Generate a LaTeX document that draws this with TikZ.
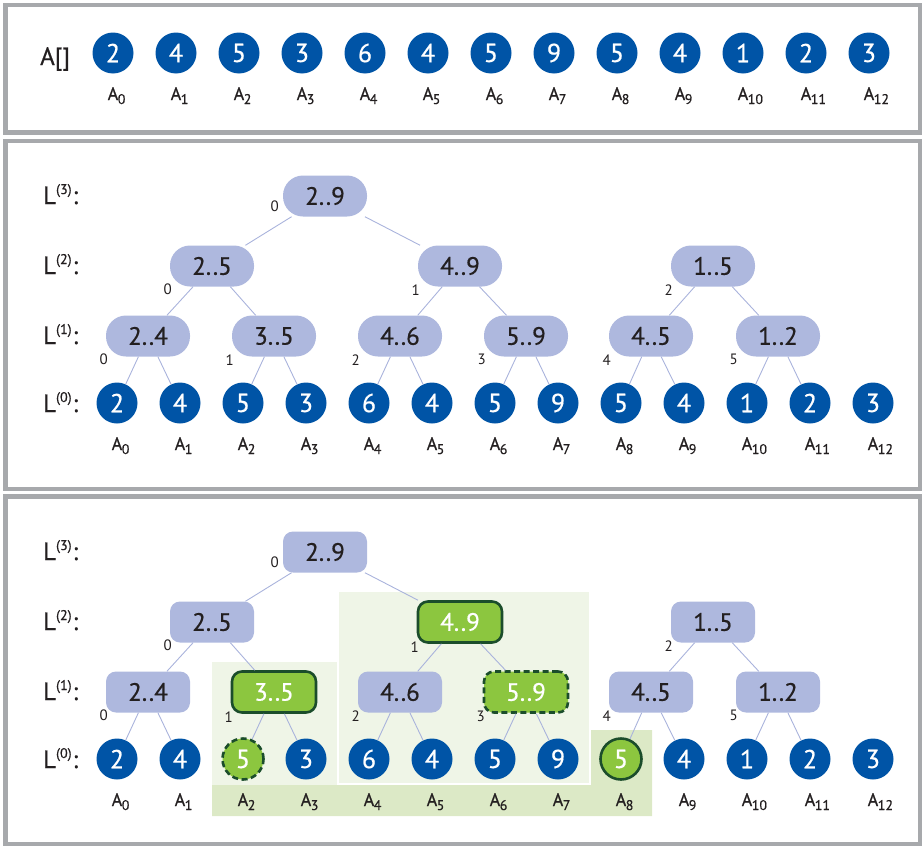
\documentclass[tikz,border=0pt]{standalone}
\usepackage{fontspec}
\setmainfont{PT Sans}
\newfontfamily\medfont{PT Sans}[FakeBold=0.6]
\usetikzlibrary{calc}
\definecolor{frame}{HTML}{A7A9AC}
\definecolor{ink}{HTML}{231F20}
\definecolor{leafblue}{HTML}{0054A6}
\definecolor{range}{HTML}{AEB8DE}
\definecolor{edgeblue}{HTML}{A9B3DC}
\definecolor{hlfill}{HTML}{8CC63F}
\definecolor{hldraw}{HTML}{1B4D2B}
\definecolor{zonelight}{HTML}{EFF5E7}
\definecolor{zoneband}{HTML}{DCE9C6}
% A with a low subscript, centred on the A only
\newcommand{\elem}[1]{A\rlap{\kern-0.5pt\raisebox{-4pt}{\fontsize{14}{14}\selectfont #1}}}
% level name L^(k):
\newcommand{\lvl}[1]{L\raisebox{10pt}{\fontsize{14}{14}\selectfont(#1)}\kern1pt:}
\tikzset{
  panel/.style={
    draw=frame,
    line width=4.5pt
  },
  leaf/.style={
    circle,
    fill=leafblue,
    text=white,
    inner sep=0pt,
    minimum size=41pt,
    font=\medfont\fontsize{26}{26}\selectfont
  },
  rangebox/.style={
    rectangle,
    rounded corners=20pt,
    fill=range,
    text=ink,
    inner sep=0pt,
    minimum width=84pt,
    minimum height=41pt,
    font=\medfont\fontsize{25}{25}\selectfont
  },
  rangesq/.style={rangebox, rounded corners=10pt},
  hlrange/.style={rangesq, fill=hlfill, text=white, draw=hldraw, line width=2.6pt},
  hlleaf/.style={leaf, fill=hlfill, draw=hldraw, line width=2.6pt},
  hldash/.style={dash pattern=on 6pt off 3.5pt},
  link/.style={
    draw=edgeblue,
    line width=0.9pt
  },
  idx/.style={
    font=\fontsize{15}{15}\selectfont,
    text=ink,
    inner sep=0pt
  },
  leafname/.style={
    font=\medfont\fontsize{18}{18}\selectfont,
    text=ink,
    anchor=base,
    inner sep=0pt
  },
  lvlname/.style={
    font=\medfont\fontsize{25}{25}\selectfont,
    text=ink,
    anchor=base west,
    inner sep=0pt
  }
}

\begin{document}
\begin{tikzpicture}[x=1pt, y=-1pt]
  \useasboundingbox (0,0) rectangle (922,846);

  %====================================================================
  % Frames of the three panels
  %====================================================================
  \draw[panel] (5.5,5)     rectangle (920.5,132.5);
  \draw[panel] (5.5,141)   rectangle (920.5,489);
  \draw[panel] (5.5,496.5) rectangle (920.5,844.5);

  %====================================================================
  % Panel 1 -- the plain array
  %====================================================================
  \node[lvlname, font=\medfont\fontsize{25}{25}\selectfont] (arr) at (40,65) {A[]};
  \foreach \v [count=\i from 0] in {2,4,5,3,6,4,5,9,5,4,1,2,3}{
    \node[leaf] (a\i) at ({113+63*\i},53) {\v};
    \node[leafname] (na\i) at ({113+63*\i},100) {\elem{\i}};
  }

  %====================================================================
  % Panel 2 -- the levels L(0) .. L(3)
  %====================================================================
  \node[lvlname] (lb3) at (43,204) {\lvl{3}};
  \node[lvlname] (lb2) at (43,274) {\lvl{2}};
  \node[lvlname] (lb1) at (43,344) {\lvl{1}};
  \node[lvlname] (lb0) at (43,412) {\lvl{0}};

  \foreach \v [count=\i from 0] in {2,4,5,3,6,4,5,9,5,4,1,2,3}{
    \node[leaf] (b\i) at ({117+63*\i},403) {\v};
    \node[leafname] (nb\i) at ({117+63*\i},450) {\elem{\i}};
  }

  \node[rangebox] (n29) at (325,196) {2..9};
  \node[rangebox] (n25) at (212,266) {2..5};
  \node[rangebox] (n49) at (460,266) {4..9};
  \node[rangebox] (n15) at (713,266) {1..5};
  \node[rangebox] (n24) at (148,336) {2..4};
  \node[rangebox] (n35) at (274,336) {3..5};
  \node[rangebox] (n46) at (400,336) {4..6};
  \node[rangebox] (n59) at (526,336) {5..9};
  \node[rangebox] (n45) at (651,336) {4..5};
  \node[rangebox] (n12) at (778,336) {1..2};

  \foreach \p/\c in {n29/n25, n29/n49, n25/n24, n25/n35, n49/n46, n49/n59,
                     n15/n45, n15/n12, n24/b0, n24/b1, n35/b2, n35/b3,
                     n46/b4, n46/b5, n59/b6, n59/b7, n45/b8, n45/b9,
                     n12/b10, n12/b11}
    \draw[link] (\p) -- (\c);

  % position of each range inside its level
  \node[idx] (kn29) at ([shift={(-8,-10)}]n29.south west) {0};
  \foreach \nd/\k in {n25/0, n49/1, n15/2, n24/0, n35/1, n46/2, n59/3, n45/4, n12/5}
    \node[idx] (k\nd) at ([shift={(-2,3)}]\nd.south west) {\k};

  %====================================================================
  % Panel 3 -- same levels, with a query highlighted
  %====================================================================
  \fill[zonelight] (212,662) rectangle (337,785);
  \fill[zonelight] (339,592) rectangle (589,783);
  \fill[zoneband] (212,785) -- (591,785) -- (591,730) -- (652,730)
                  -- (652,816) -- (212,816) -- cycle;

  \node[lvlname] (lc3) at (43,560) {\lvl{3}};
  \node[lvlname] (lc2) at (43,630) {\lvl{2}};
  \node[lvlname] (lc1) at (43,700) {\lvl{1}};
  \node[lvlname] (lc0) at (43,768) {\lvl{0}};

  \foreach \v/\i in {2/0, 4/1, 3/3, 6/4, 4/5, 5/6, 9/7, 4/9, 1/10, 2/11, 3/12}
    \node[leaf] (c\i) at ({117+63*\i},759) {\v};
  \node[hlleaf, hldash] (c2) at (243,759) {5};
  \node[hlleaf]         (c8) at (621,759) {5};
  \foreach \i in {0,...,12}
    \node[leafname] (nc\i) at ({117+63*\i},806) {\elem{\i}};

  \node[rangesq]         (h29) at (325,552) {2..9};
  \node[rangesq]         (h25) at (212,622) {2..5};
  \node[hlrange]         (h49) at (460,622) {4..9};
  \node[rangesq]         (h15) at (713,622) {1..5};
  \node[rangesq]         (h24) at (148,692) {2..4};
  \node[hlrange]         (h35) at (274,692) {3..5};
  \node[rangesq]         (h46) at (400,692) {4..6};
  \node[hlrange, hldash] (h59) at (526,692) {5..9};
  \node[rangesq]         (h45) at (651,692) {4..5};
  \node[rangesq]         (h12) at (778,692) {1..2};

  \foreach \p/\c in {h29/h25, h29/h49, h25/h24, h25/h35, h49/h46, h49/h59,
                     h15/h45, h15/h12, h24/c0, h24/c1, h35/c2, h35/c3,
                     h46/c4, h46/c5, h59/c6, h59/c7, h45/c8, h45/c9,
                     h12/c10, h12/c11}
    \draw[link] (\p) -- (\c);

  \node[idx] (kh29) at ([shift={(-8,-10)}]h29.south west) {0};
  \foreach \nd/\k in {h25/0, h49/1, h15/2, h24/0, h35/1, h46/2, h59/3, h45/4, h12/5}
    \node[idx] (k\nd) at ([shift={(-2,3)}]\nd.south west) {\k};

\end{tikzpicture}
\end{document}
